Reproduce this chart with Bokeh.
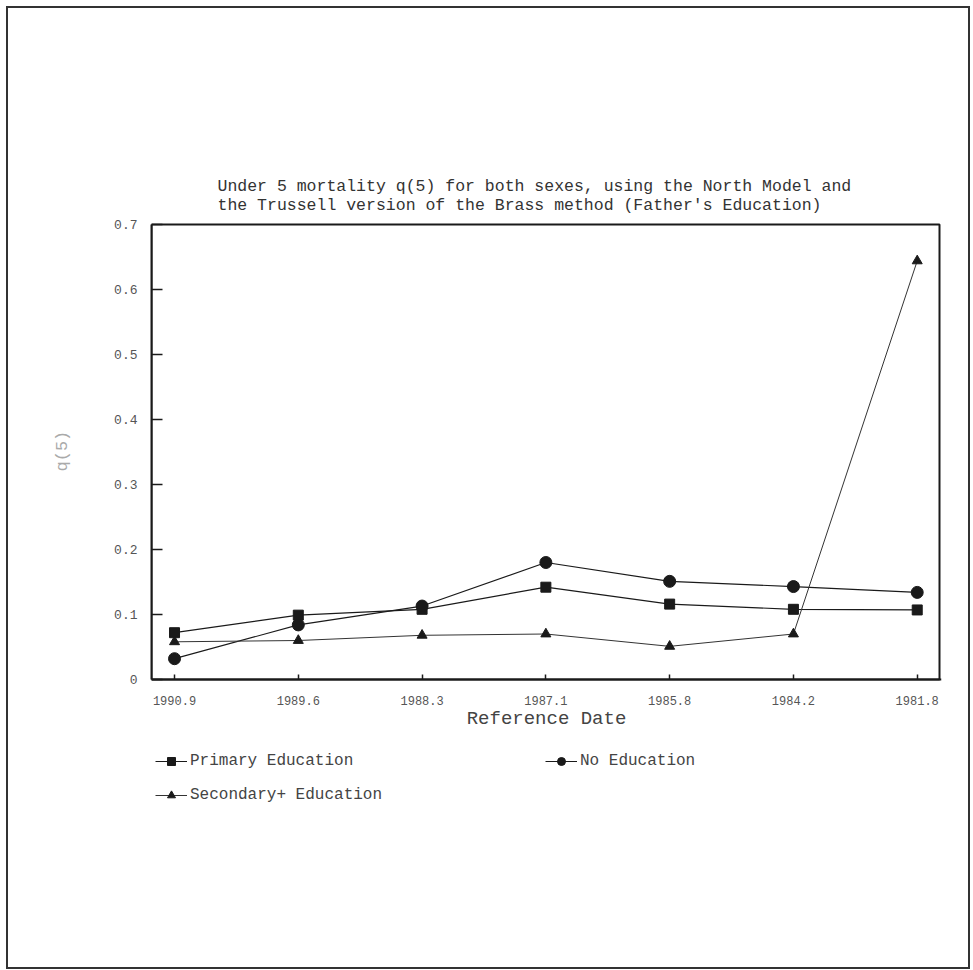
from bokeh.plotting import figure
from bokeh.models import FixedTicker, Legend, LegendItem, Title, BoxAnnotation, LinearAxis
from bokeh.embed import file_html
from bokeh.resources import INLINE

# ---- data ----
dates = ["1990.9", "1989.6", "1988.3", "1987.1", "1985.8", "1984.2", "1981.8"]
primary = [0.072, 0.099, 0.108, 0.142, 0.116, 0.108, 0.107]
no_edu = [0.032, 0.084, 0.113, 0.180, 0.151, 0.143, 0.134]
secondary = [0.058, 0.060, 0.068, 0.070, 0.051, 0.070, 0.644]
y_ticks = [0, 0.1, 0.2, 0.3, 0.4, 0.5, 0.6, 0.7]
y_tick_labels = ["0", "0.1", "0.2", "0.3", "0.4", "0.5", "0.6", "0.7"]

title_lines = [
    "Under 5 mortality q(5) for both sexes, using the North Model and",
    "the Trussell version of the Brass method (Father's Education)",
]
x_title = "Reference Date"
y_title = "q(5)"

FONT = "Liberation Mono"
INK = "#1a1a1a"

xs = list(range(len(dates)))
Y_MAX = 0.7
X0, X1 = -0.186, len(dates) - 1 + 0.18   # chart box in x
PX_X, PX_Y = 123.8, 650.0                # pixels per data unit

# the frame reaches down below the axis so that the legend can sit inside it
p = figure(frame_width=790, frame_height=608, output_backend="svg", toolbar_location=None,
           x_range=(X0, X1 + 2 / PX_X), y_range=(-151 / PX_Y, Y_MAX + 2 / PX_Y),
           x_axis_location=None, y_axis_location=None,
           min_border_left=143, min_border_top=214, min_border_right=27,
           min_border_bottom=137)
p.styles = {"border": "2px solid #333", "margin": "6px 0 0 6px"}

p.xgrid.visible = False
p.ygrid.visible = False
p.outline_line_color = None
p.background_fill_color = "white"
p.border_fill_color = "white"

# chart box
p.add_layout(BoxAnnotation(left=X0, right=X1, bottom=0, top=Y_MAX, fill_alpha=0,
                           line_color=INK, line_width=2, line_alpha=1))

# two-line title
p.add_layout(Title(text="\n".join(title_lines), align="left", offset=66, standoff=14,
                   text_font=FONT, text_font_size="16.5px", text_line_height=1.02,
                   text_font_style="normal", text_color="#333333"), "above")

# axes
xaxis = LinearAxis(fixed_location=0, ticker=FixedTicker(ticks=xs),
                   major_label_overrides={i: d for i, d in zip(xs, dates)})
yaxis = LinearAxis(ticker=FixedTicker(ticks=y_ticks), bounds=(0, Y_MAX),
                   major_label_overrides={t: l for t, l in zip(y_ticks, y_tick_labels)})
p.add_layout(xaxis, "below")
p.add_layout(yaxis, "left")
for ax in (xaxis, yaxis):
    ax.axis_line_width = 2
    ax.axis_line_color = INK
    ax.major_tick_line_color = INK
    ax.major_tick_line_width = 1.5
    ax.major_tick_out = 0
    ax.minor_tick_line_color = None
    ax.major_label_text_font = FONT
    ax.major_label_text_color = "#555555"
    ax.axis_label_text_font = FONT
    ax.axis_label_text_font_style = "normal"
xaxis.major_tick_in = 5
yaxis.major_tick_in = 11
xaxis.major_label_text_font_size = "12px"
yaxis.major_label_text_font_size = "13px"
xaxis.major_label_standoff = 16
yaxis.major_label_standoff = 14
xaxis.axis_label = x_title
xaxis.axis_label_text_font_size = "19px"
xaxis.axis_label_text_color = "#444444"
xaxis.axis_label_standoff = 0

# y-axis title, centred on the 0..0.7 part of the frame
p.add_layout(Title(text=y_title, align="left", offset=359, standoff=79,
                   text_font=FONT, text_font_size="17px", text_font_style="normal",
                   text_color="#aaaaaa"), "left")

# series
l1 = p.line(xs, primary, line_color=INK, line_width=1.2)
m1 = p.scatter(xs, primary, marker="square", size=10, fill_color=INK, line_color=INK)
l2 = p.line(xs, no_edu, line_color=INK, line_width=1.2)
m2 = p.scatter(xs, no_edu, marker="circle", size=12, fill_color=INK, line_color=INK)
l3 = p.line(xs, secondary, line_color="#333333", line_width=1.0)
m3 = p.scatter(xs, secondary, marker="triangle", size=10, fill_color=INK, line_color=INK)

# legend (inside the lower part of the frame), two columns
leg = Legend(items=[LegendItem(label="Primary Education", renderers=[l1, m1]),
                    LegendItem(label="No Education", renderers=[l2, m2]),
                    LegendItem(label="Secondary+ Education", renderers=[l3, m3])],
             orientation="horizontal", ncols=2, location=(4, 25))
leg.background_fill_alpha = 0
leg.border_line_color = None
leg.padding = 0
leg.margin = 0
leg.glyph_width = 32
leg.glyph_height = 20
leg.label_height = 20
leg.label_width = 341
leg.label_standoff = 3
leg.spacing = 14
leg.label_text_font = FONT
leg.label_text_font_size = "16px"
leg.label_text_color = "#444444"
p.add_layout(leg, "center")

open("out.html", "w").write(file_html(p, INLINE))
